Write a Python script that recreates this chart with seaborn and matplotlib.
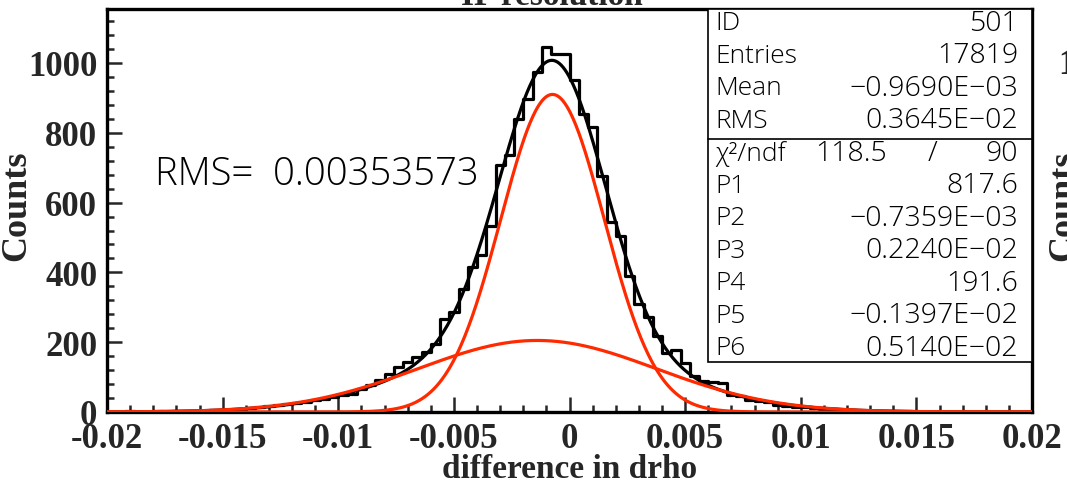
import numpy as np
import pandas as pd
import matplotlib
matplotlib.use("Agg")
import matplotlib.pyplot as plt
from matplotlib.patches import Rectangle
from matplotlib.ticker import MultipleLocator, FixedLocator
import seaborn as sns

# ---------------- data ----------------
x_range = [-0.02, 0.02]
counts = [1, 0, 2, 1, 1, 2, 1, 3, 2, 4,
          3, 5, 6, 7, 9, 12, 14, 17, 19, 22,
          27, 30, 33, 38, 42, 50, 52, 66, 78, 92,
          110, 130, 142, 158, 172, 196, 266, 286, 352, 415,
          450, 534, 708, 737, 840, 897, 973, 1045, 1026, 1026,
          952, 854, 817, 677, 544, 505, 391, 309, 272, 219,
          168, 178, 140, 104, 90, 86, 84, 48, 46, 34,
          31, 30, 19, 18, 14, 13, 11, 9, 8, 6,
          5, 4, 4, 3, 2, 2, 2, 1, 1, 1,
          1, 0, 1, 0, 0, 1, 0, 0, 0, 0]
fit_params = [817.6, -0.7359e-03, 0.2240e-02, 191.6, -0.1397e-02, 0.5140e-02]
# peak heights of the two red component curves as drawn in the picture
red_amplitudes = [910.0, 205.0]
stat_labels = ["ID", "Entries", "Mean", "RMS"]
stat_values = ["501", "17819", "\u22120.9690E\u221203", "0.3645E\u221202"]
par_labels = ["P1", "P2", "P3", "P4", "P5", "P6"]
par_values = ["817.6", "\u22120.7359E\u221203", "0.2240E\u221202", "191.6",
              "\u22120.1397E\u221202", "0.5140E\u221202"]
chi2_text = ["118.5", "/", "90"]
x_ticks = [-0.02, -0.015, -0.01, -0.005, 0, 0.005, 0.01, 0.015, 0.02]
x_tick_labels = ["-0.02", "-0.015", "-0.01", "-0.005", "0", "0.005", "0.01", "0.015", "0.02"]
y_ticks = [0, 200, 400, 600, 800, 1000]
y_tick_labels = ["0", "200", "400", "600", "800", "1000"]
rms_text = "RMS=  0.00353573"

# ---------------- style ----------------
sns.set_style("white")
plt.rcParams["font.family"] = ["Liberation Serif", "DejaVu Serif"]

W, H = 1067, 485
fig = plt.figure(figsize=(W / 100, H / 100), dpi=100)
L, R, B, T = 107, 1032, 413, 10
ax = fig.add_axes([L / W, 1 - B / H, (R - L) / W, (B - T) / H])

edges = np.linspace(x_range[0], x_range[1], len(counts) + 1)
centers = 0.5 * (edges[:-1] + edges[1:])
df = pd.DataFrame({"center": centers, "count": np.asarray(counts, dtype=float)})

sns.histplot(data=df, x="center", weights="count", bins=list(edges), element="step",
             fill=False, color="black", linewidth=2.3, ax=ax, zorder=2)

xs = np.linspace(x_range[0], x_range[1], 1001)
p1, p2, p3, p4, p5, p6 = fit_params
g1 = np.exp(-0.5 * ((xs - p2) / p3) ** 2)
g2 = np.exp(-0.5 * ((xs - p5) / p6) ** 2)
sns.lineplot(x=xs, y=p1 * g1 + p4 * g2, color="black", linewidth=2.3, ax=ax, zorder=3)
sns.lineplot(x=xs, y=red_amplitudes[0] * g1, color="#ff2a00", linewidth=2.3, ax=ax, zorder=4)
sns.lineplot(x=xs, y=red_amplitudes[1] * g2, color="#ff2a00", linewidth=2.3, ax=ax, zorder=4)

ax.set_xlim(*x_range)
ax.set_ylim(0, (B - T) / 0.349)

ax.xaxis.set_major_locator(FixedLocator(x_ticks))
ax.set_xticklabels(x_tick_labels)
ax.xaxis.set_minor_locator(MultipleLocator(0.001))
ax.yaxis.set_major_locator(FixedLocator(y_ticks))
ax.set_yticklabels(y_tick_labels)
ax.yaxis.set_minor_locator(MultipleLocator(40))
ax.tick_params(which="major", direction="in", length=11, width=1.8, labelsize=25, pad=7)
ax.tick_params(which="minor", direction="in", length=5, width=1.8)
ax.tick_params(axis="x", which="both", top=False, bottom=True)
ax.tick_params(axis="y", which="both", right=False, left=True)
for lab in ax.get_xticklabels() + ax.get_yticklabels():
    lab.set_fontweight("bold")
for sp in ax.spines.values():
    sp.set_linewidth(2.4)
    sp.set_color("black")

ax.set_xlabel("difference in drho", fontsize=24, fontweight="bold")
ax.xaxis.label.set_va("center")
ax.xaxis.set_label_coords(0.5, (B - 470) / (B - T))
ax.set_ylabel("Counts", fontsize=26, fontweight="bold")
ax.yaxis.label.set_va("center")
ax.yaxis.set_label_coords((17 - L) / (R - L), (B - 206) / (B - T))

# RMS annotation
thin = ["Open Sans", "DejaVu Sans"]
tw = "light"
tc = "black"
ax.text((155 - L) / (R - L), (B - 175) / (B - T), rms_text, fontsize=27.5,
        family=thin, fontweight=tw, color=tc, va="center", ha="left",
        transform=ax.transAxes)

# stats box
bx0 = (708 - L) / (R - L)
by0 = (B - 363) / (B - T)
ax.add_patch(Rectangle((bx0, by0), 1 - bx0, 1 - by0, transform=ax.transAxes,
                       facecolor="white", edgecolor="black", linewidth=1.2, zorder=5))
ydiv = (B - 140) / (B - T)
ax.plot([bx0, 1], [ydiv, ydiv], transform=ax.transAxes, color="black", lw=1.2, zorder=6)

lx = (715 - L) / (R - L)
rx = (1018 - L) / (R - L)
row_px = [24 + 32.5 * k for k in range(11)]
labels = stat_labels + ["\u03c7\u00b2/ndf"] + par_labels
values = stat_values + [None] + par_values
fs_lab = 19
fs_val = 20.5
for ypx, lab, val in zip(row_px, labels, values):
    yy = (B - ypx) / (B - T)
    ax.text(lx, yy, lab, transform=ax.transAxes, fontsize=fs_lab, family=thin,
            fontweight=tw, va="center", ha="left", zorder=7, color=tc)
    if val is not None:
        ax.text(rx, yy, val, transform=ax.transAxes, fontsize=fs_val, family=thin,
                fontweight=tw, va="center", ha="right", zorder=7, color=tc)
    else:
        ax.text((887 - L) / (R - L), yy, chi2_text[0], transform=ax.transAxes, fontsize=fs_val,
                family=thin, fontweight=tw, va="center", ha="right", zorder=7, color=tc)
        ax.text((933 - L) / (R - L), yy, chi2_text[1], transform=ax.transAxes, fontsize=fs_val,
                family=thin, fontweight=tw, va="center", ha="center", zorder=7, color=tc)
        ax.text(rx, yy, chi2_text[2], transform=ax.transAxes, fontsize=fs_val,
                family=thin, fontweight=tw, va="center", ha="right", zorder=7, color=tc)

# title (mostly cut off at the top) and fragments of the neighbouring panel
fig.text(552 / W, 1 - 5 / H, "IP resolution", fontsize=24, fontweight="bold",
         ha="center", va="baseline")
fig.text(1058 / W, 1 - 65 / H, "1000", fontsize=25, fontweight="bold", ha="left", va="center")
fig.text(1064 / W, 1 - 206 / H, "Counts", fontsize=26, fontweight="bold", rotation=90,
         ha="center", va="center")

fig.savefig("out.png", dpi=100)
